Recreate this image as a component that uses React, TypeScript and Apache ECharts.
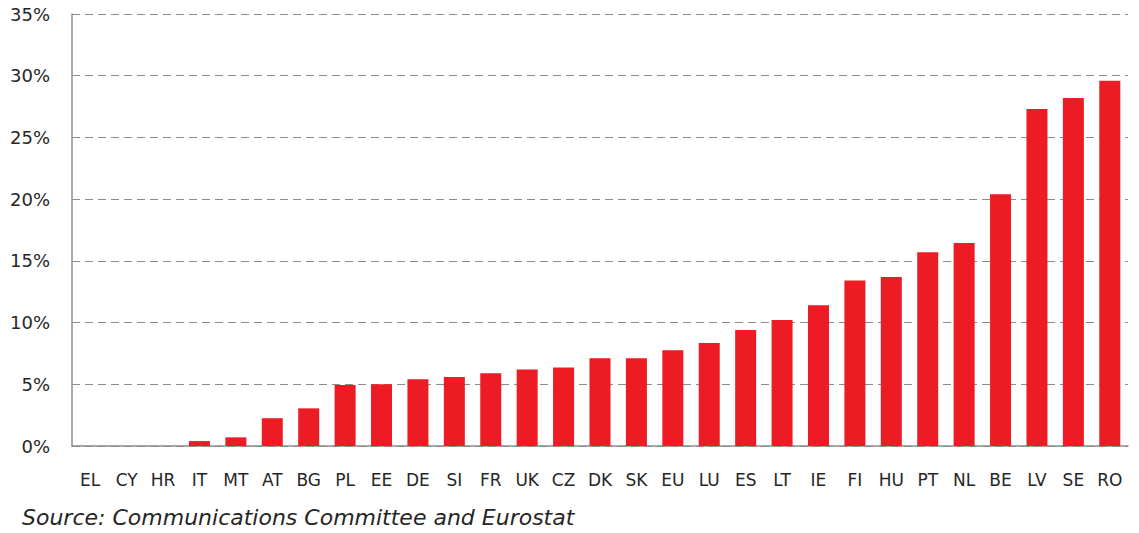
import React, { useEffect, useRef } from "react";
import * as echarts from "echarts";

const categories = ["EL","CY","HR","IT","MT","AT","BG","PL","EE","DE","SI","FR","UK","CZ","DK","SK","EU","LU","ES","LT","IE","FI","HU","PT","NL","BE","LV","SE","RO"];
const values = [0,0,0,0.4,0.7,2.25,3.05,4.95,5.0,5.4,5.6,5.9,6.2,6.35,7.1,7.1,7.75,8.35,9.4,10.2,11.4,13.4,13.7,15.7,16.45,20.4,27.3,28.2,29.6];
const yTicks = [0,5,10,15,20,25,30,35];
const sourceText = "Source: Communications Committee and Eurostat";

export default function App() {
  const ref = useRef<HTMLDivElement>(null);
  useEffect(() => {
    if (!ref.current) return;
    const chart = echarts.init(ref.current, null, { renderer: "svg" });
    chart.setOption({
      animation: false,
      grid: { left: 72, right: 11, top: 14, bottom: 87, containLabel: false },
      xAxis: {
        type: "category",
        data: categories,
        axisLine: { show: true, lineStyle: { color: "#8c8c8c", width: 1.5 } },
        axisTick: { show: false },
        axisLabel: { color: "#262626", fontSize: 17, fontFamily: "DejaVu Sans", margin: 25, interval: 0 },
      },
      yAxis: {
        type: "value",
        min: yTicks[0],
        max: yTicks[yTicks.length - 1],
        interval: 5,
        axisLine: { show: true, lineStyle: { color: "#8c8c8c", width: 1.5 } },
        axisTick: { show: false },
        axisLabel: { color: "#262626", fontSize: 18, fontFamily: "DejaVu Sans", margin: 22, formatter: (v: number) => v + "%" },
        splitLine: { show: true, lineStyle: { color: "#8c8c8c", type: [8, 5], width: 1.2 } },
      },
      series: [
        {
          type: "bar",
          data: values,
          barWidth: 21,
          itemStyle: { color: "#ed1c24" },
        },
      ],
      graphic: [
        {
          type: "text",
          left: 22,
          top: 506,
          style: { text: sourceText, fill: "#262626", font: "italic 22px 'DejaVu Sans'" },
        },
      ],
    });
    return () => chart.dispose();
  }, []);
  return <div ref={ref} style={{ width: 1139, height: 533, position: "absolute", left: 0, top: 0, background: "#fff" }} />;
}
